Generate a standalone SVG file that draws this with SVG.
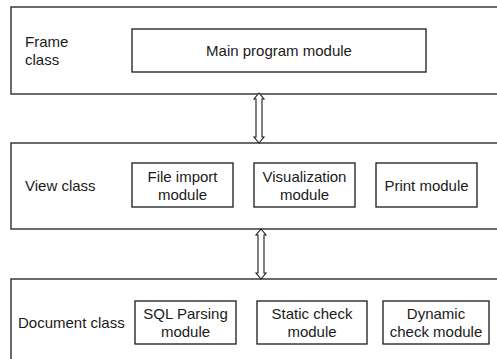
<svg xmlns="http://www.w3.org/2000/svg" width="497" height="359" viewBox="0 0 497 359">
<style>
.layer{fill:#fff;stroke:#3a3a3a;stroke-width:1.5}
.mod{fill:#fff;stroke:#1a1a1a;stroke-width:1.3}
text{font-family:"Liberation Sans",Arial,sans-serif;font-size:15px;fill:#1a1a1a}
.c{text-anchor:middle}
.arrow{fill:#fff;stroke:#1a1a1a;stroke-width:1.1}
</style>
<rect width="497" height="359" fill="#fff"/>
<g id="frame-layer">
<rect class="layer" x="11" y="7" width="500" height="87"/>
<text x="25" y="47">Frame</text>
<text x="25" y="65">class</text>
</g>
<g id="main-program">
<rect class="mod" x="132" y="29" width="294" height="43"/>
<text class="c" x="279" y="56">Main program module</text>
</g>
<g id="view-layer">
<rect class="layer" x="11" y="143" width="500" height="86"/>
<text x="25" y="191">View class</text>
</g>
<g id="file-import">
<rect class="mod" x="132" y="163" width="101" height="44"/>
<text class="c" x="182.5" y="182">File import</text>
<text class="c" x="182.5" y="200">module</text>
</g>
<g id="visualization">
<rect class="mod" x="254" y="163" width="101" height="44"/>
<text class="c" x="304.5" y="182">Visualization</text>
<text class="c" x="304.5" y="200">module</text>
</g>
<g id="print">
<rect class="mod" x="376" y="163" width="101" height="44"/>
<text class="c" x="426.5" y="191">Print module</text>
</g>
<g id="document-layer">
<rect class="layer" x="11" y="279" width="500" height="100"/>
<text x="18" y="328">Document class</text>
</g>
<g id="sql-parsing">
<rect class="mod" x="135" y="301" width="101" height="43"/>
<text class="c" x="185.5" y="319">SQL Parsing</text>
<text class="c" x="185.5" y="337">module</text>
</g>
<g id="static-check">
<rect class="mod" x="257" y="301" width="110" height="43"/>
<text class="c" x="312" y="319">Static check</text>
<text class="c" x="312" y="337">module</text>
</g>
<g id="dynamic-check">
<rect class="mod" x="383" y="301" width="106" height="43"/>
<text class="c" x="436" y="319">Dynamic</text>
<text class="c" x="436" y="337">check module</text>
</g>
<g id="connectors">
<polygon class="arrow" points="259,93 264,99 262,99 262,137 264,137 259,143 254,137 256,137 256,99 254,99"/>
<polygon class="arrow" points="261,229 266,235 264,235 264,273 266,273 261,279 256,273 258,273 258,235 256,235"/>
</g>
</svg>
